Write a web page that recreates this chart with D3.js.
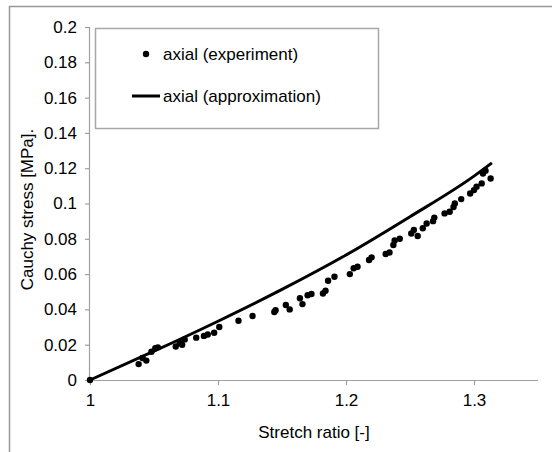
<!DOCTYPE html>
<html>
<head>
<meta charset="utf-8">
<script src="https://cdn.jsdelivr.net/npm/d3@7"></script>
<style>
  body { margin: 0; background: #fff; }
  text { font-family: Arial, "Liberation Sans", sans-serif; }
</style>
</head>
<body>
<script>
// stretch ratio / stress of the experiment points
var expX = [1.000, 1.038, 1.041, 1.044, 1.048, 1.051, 1.053, 1.067, 1.070, 1.072,
            1.074, 1.083, 1.089, 1.092, 1.097, 1.101, 1.116, 1.127, 1.144, 1.145,
            1.153, 1.156, 1.164, 1.166, 1.170, 1.173, 1.182, 1.184, 1.186, 1.191,
            1.203, 1.206, 1.209, 1.218, 1.220, 1.231, 1.234, 1.237, 1.238, 1.242,
            1.251, 1.253, 1.256, 1.260, 1.263, 1.268, 1.269, 1.277, 1.281, 1.284,
            1.285, 1.290, 1.297, 1.300, 1.302, 1.306, 1.307, 1.309, 1.313];
var expY = [0.000, 0.009, 0.0125, 0.011, 0.016, 0.018, 0.0185, 0.019, 0.021, 0.020,
            0.023, 0.024, 0.025, 0.0258, 0.0268, 0.030, 0.0336, 0.0363, 0.0385, 0.0395,
            0.0425, 0.040, 0.0463, 0.043, 0.048, 0.0487, 0.049, 0.0506, 0.0562, 0.0585,
            0.060, 0.0633, 0.0642, 0.068, 0.0695, 0.0714, 0.0722, 0.0765, 0.079, 0.080,
            0.083, 0.085, 0.0816, 0.086, 0.0887, 0.090, 0.092, 0.0944, 0.0953, 0.098,
            0.100, 0.1025, 0.1057, 0.1076, 0.1095, 0.1114, 0.117, 0.1186, 0.1142];

// the approximation curve
var fitX = [1.0, 1.05, 1.1, 1.15, 1.2, 1.25, 1.3, 1.314];
var fitY = [0.0, 0.0163, 0.0333, 0.0513, 0.0708, 0.0925, 0.1155, 0.123];

var xTicks = [1, 1.1, 1.2, 1.3];
var yTicks = [0, 0.02, 0.04, 0.06, 0.08, 0.1, 0.12, 0.14, 0.16, 0.18, 0.2];

var legendNames = ["axial (experiment)", "axial (approximation)"];

var width = 552, height = 452;
var plotLeft = 90, plotRight = 538, plotTop = 27, plotBottom = 380;
var axisColor = "#a0a0a0";

var svg = d3.select("body").append("svg")
            .attr("width", width)
            .attr("height", height);

// outer frame, only top and left edges show
svg.append("path")
   .attr("d", "M9.5," + height + "V6.5H" + width)
   .attr("fill", "none")
   .attr("stroke", "#999")
   .attr("stroke-width", 1.5);

var x = d3.scaleLinear().domain([1, 1.35]).range([plotLeft, plotRight]);
var y = d3.scaleLinear().domain([0, 0.2]).range([plotBottom, plotTop]);

// x axis
var gx = svg.append("g")
   .attr("transform", "translate(0," + plotBottom + ")")
   .call(d3.axisBottom(x).tickValues(xTicks).tickSize(5).tickPadding(9)
           .tickFormat(function(d){ return String(d); }));

// y axis
var gy = svg.append("g")
   .attr("transform", "translate(" + plotLeft + ",0)")
   .call(d3.axisLeft(y).tickValues(yTicks).tickSize(5).tickPadding(8)
           .tickFormat(function(d){ return String(d); }));

gx.select(".domain").attr("d", "M" + plotLeft + ",0.5H" + plotRight);
gy.select(".domain").attr("d", "M-0.5," + plotTop + "V" + plotBottom);

[gx, gy].forEach(function(g){
  g.select(".domain").attr("stroke", axisColor).attr("stroke-width", 1.2);
  g.selectAll(".tick line").attr("stroke", axisColor).attr("stroke-width", 1.2);
  g.selectAll(".tick text").attr("fill", "#000").style("font-size", "17px")
   .style("font-family", "Arial, 'Liberation Sans', sans-serif");
});

// axis titles
svg.append("text")
   .attr("x", (plotLeft + plotRight) / 2)
   .attr("y", 438)
   .attr("text-anchor", "middle")
   .style("font-size", "17px")
   .text("Stretch ratio [-]");

svg.append("text")
   .attr("transform", "translate(33," + ((plotTop + plotBottom) / 2 + 6) + ")rotate(-90)")
   .attr("text-anchor", "middle")
   .style("font-size", "17px")
   .text("Cauchy stress [MPa].");

// approximation line
var fit = fitX.map(function(d, i){ return [d, fitY[i]]; });
var line = d3.line()
             .x(function(d){ return x(d[0]); })
             .y(function(d){ return y(d[1]); })
             .curve(d3.curveMonotoneX);

svg.append("path")
   .datum(fit)
   .attr("d", line)
   .attr("fill", "none")
   .attr("stroke", "#000")
   .attr("stroke-width", 3);

// experiment dots
svg.selectAll("circle.exp")
   .data(expX)
   .enter()
   .append("circle")
   .attr("class", "exp")
   .attr("cx", function(d){ return x(d); })
   .attr("cy", function(d, i){ return y(expY[i]); })
   .attr("r", 3.2)
   .attr("fill", "#000");

// legend
var lg = svg.append("g");
lg.append("rect")
  .attr("x", 95.5).attr("y", 28.5)
  .attr("width", 283).attr("height", 100)
  .attr("fill", "#fff")
  .attr("stroke", "#a8a8a8")
  .attr("stroke-width", 1.5);

lg.append("circle")
  .attr("cx", 146).attr("cy", 54).attr("r", 3.2).attr("fill", "#000");
lg.append("line")
  .attr("x1", 132).attr("x2", 160).attr("y1", 96).attr("y2", 96)
  .attr("stroke", "#000").attr("stroke-width", 3);

lg.selectAll("text.leg")
  .data(legendNames)
  .enter()
  .append("text")
  .attr("class", "leg")
  .attr("x", 163)
  .attr("y", function(d, i){ return 60 + i * 42; })
  .style("font-size", "17px")
  .text(function(d){ return d; });
</script>
</body>
</html>
